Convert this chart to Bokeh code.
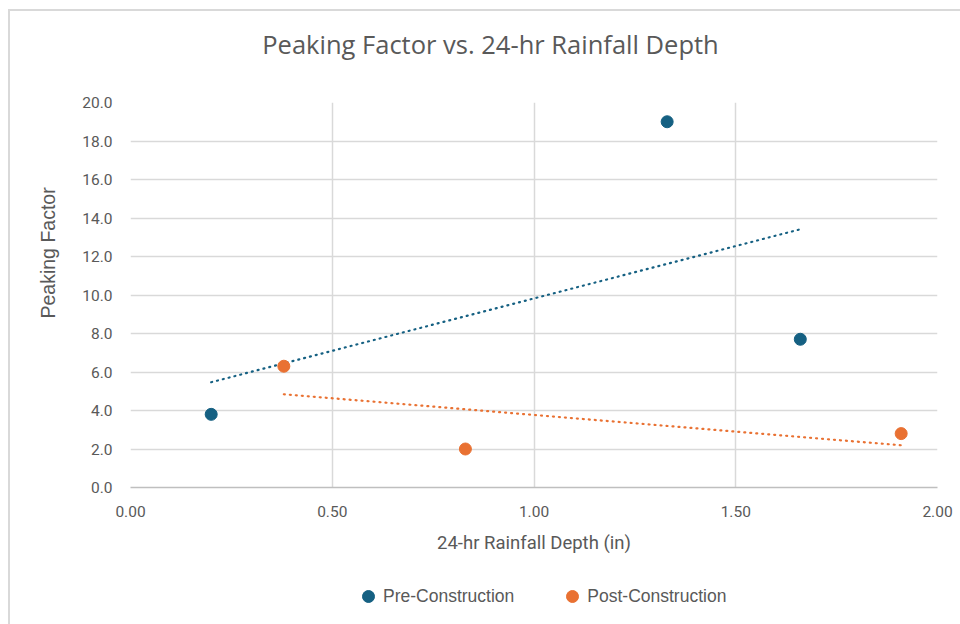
import numpy as np
from bokeh.plotting import figure
from bokeh.layouts import column
from bokeh.models import (Range1d, FixedTicker, NumeralTickFormatter,
                          Legend, LegendItem, Label, Title)
from bokeh.embed import file_html
from bokeh.resources import INLINE

# 24-hr rainfall depth (in) and peaking factor for each event
rain_pre = [0.20, 1.33, 1.66]
pf_pre = [3.8, 19.0, 7.7]
rain_post = [0.38, 0.83, 1.91]
pf_post = [6.3, 2.0, 2.8]

x_ticks = [0.0, 0.5, 1.0, 1.5, 2.0]
y_ticks = [0, 2, 4, 6, 8, 10, 12, 14, 16, 18, 20]

BLUE = "#156082"
ORANGE = "#E97132"
TEXT = "#595959"
GRID = "#D9D9D9"

W = 950
BORDERS = dict(min_border_left=120, min_border_right=23)


def linear_trend(xs, ys):
    slope, intercept = np.polyfit(xs, ys, 1)
    tx = [min(xs), max(xs)]
    return tx, [slope * v + intercept for v in tx]


def blank_strip(height):
    # a bare strip whose frame spans the chart's width, used for title / legend
    f = figure(width=W, height=height, output_backend="svg", toolbar_location=None,
               x_range=Range1d(130, 937), y_range=Range1d(0, height),
               min_border_top=0, min_border_bottom=0, outline_line_color=None,
               **BORDERS)
    f.axis.visible = False
    f.grid.visible = False
    f.border_fill_color = "white"
    return f


# ---- title strip
top = blank_strip(60)
top.add_layout(Label(x=490, y=28, text="Peaking Factor vs. 24-hr Rainfall Depth",
                     text_align="center", text_baseline="alphabetic",
                     text_font="Open Sans", text_font_size="25.5px",
                     text_color=TEXT))

# ---- main chart
p = figure(width=W, height=500, output_backend="svg", toolbar_location=None,
           x_range=Range1d(0, 2), y_range=Range1d(0, 20),
           min_border_top=31, min_border_bottom=84, **BORDERS)
p.outline_line_color = None
p.background_fill_color = "white"
p.border_fill_color = "white"

p.xaxis.ticker = FixedTicker(ticks=x_ticks)
p.yaxis.ticker = FixedTicker(ticks=y_ticks)
p.xaxis.formatter = NumeralTickFormatter(format="0.00")
p.yaxis.formatter = NumeralTickFormatter(format="0.0")
for ax in (p.xaxis[0], p.yaxis[0]):
    ax.major_tick_line_color = None
    ax.minor_tick_line_color = None
    ax.major_label_text_color = TEXT
    ax.major_label_text_font = "Roboto"
    ax.major_label_text_font_size = "15.5px"
    ax.axis_label_text_color = TEXT
    ax.axis_label_text_font_style = "normal"
p.xaxis.axis_line_color = "#BFBFBF"
p.xaxis.axis_line_width = 1.5
p.yaxis.axis_line_color = None
p.xaxis.major_label_standoff = 12
p.yaxis.major_label_standoff = 12
p.xaxis.axis_label = "24-hr Rainfall Depth (in)"
p.xaxis.axis_label_text_font = "Roboto"
p.xaxis.axis_label_text_font_size = "18.5px"
p.xaxis.axis_label_standoff = 12

# vertical axis title, placed along the left side
p.add_layout(Title(text="Peaking Factor", align="left", offset=169,
                   vertical_align="bottom", standoff=42,
                   text_font="Liberation Sans", text_font_size="19.5px",
                   text_font_style="normal", text_color=TEXT), "left")

p.xgrid.grid_line_color = GRID
p.ygrid.grid_line_color = GRID
p.xgrid.grid_line_width = 1.5
p.ygrid.grid_line_width = 1.5

# linear trendlines (dotted)
tx, ty = linear_trend(rain_pre, pf_pre)
p.line(tx, ty, line_color=BLUE, line_width=2.2, line_dash="1 5", line_cap="round")
tx, ty = linear_trend(rain_post, pf_post)
p.line(tx, ty, line_color=ORANGE, line_width=2.2, line_dash="1 5", line_cap="round")

# data points
p.scatter(rain_pre, pf_pre, size=12, fill_color=BLUE, line_color=BLUE)
p.scatter(rain_post, pf_post, size=12, fill_color=ORANGE, line_color=ORANGE)

# ---- legend strip
lg = blank_strip(53)
k_pre = lg.scatter(x=[0], y=[-100], size=12, fill_color=BLUE, line_color=BLUE)
k_post = lg.scatter(x=[0], y=[-100], size=12, fill_color=ORANGE, line_color=ORANGE)
legend = Legend(items=[LegendItem(label="Pre-Construction", renderers=[k_pre]),
                       LegendItem(label="Post-Construction", renderers=[k_post])],
                orientation="horizontal", location=(223, 13),
                padding=0, margin=0, spacing=43, label_standoff=0,
                glyph_width=30, glyph_height=30,
                label_text_font="Liberation Sans", label_text_font_size="17.5px",
                label_text_color=TEXT, border_line_color=None,
                background_fill_alpha=0)
lg.add_layout(legend, "center")

page = column(top, p, lg, spacing=0,
              styles={"margin-left": "8px", "margin-top": "9px",
                      "border-left": "2px solid #D9D9D9",
                      "border-top": "2px solid #D9D9D9"})

open("out.html", "w").write(file_html(page, INLINE))
